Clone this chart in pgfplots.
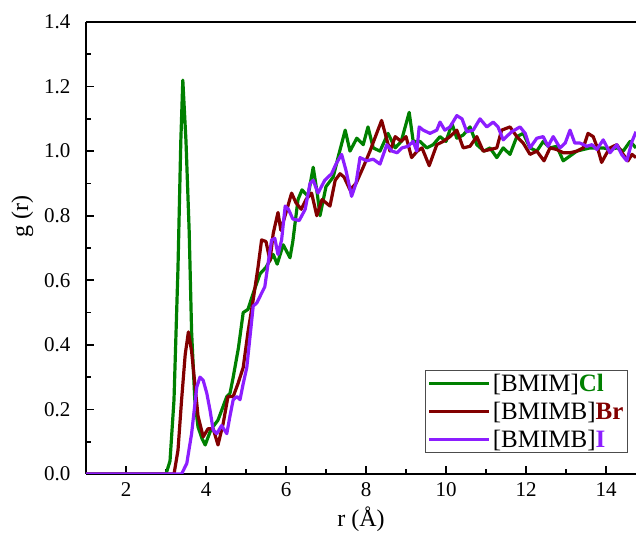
\documentclass[border=0pt]{standalone}
\usepackage{pgfplots}
\pgfplotsset{compat=1.18}
\usepackage{fontspec}
\setmainfont{Liberation Serif}
\definecolor{cgreen}{RGB}{0,128,0}
\definecolor{cred}{RGB}{130,0,0}
\definecolor{cpurple}{RGB}{140,30,255}
\begin{document}
\begin{tikzpicture}
\begin{axis}[
  scale only axis, width=550pt, height=452pt,
  xmin=1, xmax=14.75, ymin=0, ymax=1.4,
  axis x line*=bottom, axis y line*=left,
  axis line style={-, line width=1.6pt, black},
  tick align=inside, major tick length=8pt, minor tick length=5pt,
  every tick/.style={black, line width=1.6pt},
  xtick={2,4,6,8,10,12,14}, minor xtick={1,3,5,7,9,11,13,15},
  ytick={0,0.2,0.4,0.6,0.8,1.0,1.2,1.4},
  minor ytick={0.1,0.3,0.5,0.7,0.9,1.1,1.3},
  /pgf/number format/assume math mode=true,
  yticklabel style={/pgf/number format/.cd, fixed, fixed zerofill, precision=1, /tikz/.cd, xshift=-12pt},
  xticklabel style={/pgf/number format/.cd, fixed, precision=0, /tikz/.cd, yshift=-5pt},
  ticklabel style={font=\fontsize{21}{21}\selectfont},
  xlabel={r (Å)}, ylabel={g (r)},
  label style={font=\fontsize{24}{24}\selectfont},
  ylabel style={at={(ticklabel cs:0.57)}, yshift=4pt},
  xlabel style={yshift=-3pt},
  legend style={at={(0.985,0.046)}, anchor=south east, draw=black!70, line width=0.8pt,
    font=\fontsize{25}{25}\selectfont, cells={anchor=west}, inner sep=2pt, row sep=5pt},
  legend image code/.code={\draw[#1, line width=3pt] (0pt,0pt) -- (60pt,0pt);},
  every axis plot/.append style={line width=3.2pt, line join=round},
]
\coordinate (sw) at (rel axis cs:0,0);
\coordinate (ne) at (rel axis cs:1,1);
\addplot[cgreen] coordinates {(1,0) (3.0,0) (3.1,0.04) (3.2,0.23) (3.3,0.64) (3.37,1.03) (3.42,1.22) (3.5,1.03) (3.58,0.75) (3.64,0.44) (3.72,0.23) (3.8,0.146) (3.9,0.11) (3.98,0.09) (4.1,0.13) (4.18,0.147) (4.3,0.167) (4.4,0.2) (4.52,0.24) (4.6,0.25) (4.68,0.30) (4.81,0.39) (4.93,0.50) (5.05,0.51) (5.18,0.56) (5.35,0.62) (5.5,0.64) (5.68,0.68) (5.78,0.65) (5.93,0.71) (6.1,0.67) (6.17,0.72) (6.3,0.85) (6.4,0.88) (6.55,0.86) (6.68,0.95) (6.78,0.87) (6.85,0.80) (7.0,0.89) (7.18,0.92) (7.3,0.98) (7.48,1.065) (7.6,1.0) (7.77,1.04) (7.93,1.02) (8.05,1.075) (8.18,1.01) (8.35,1.0) (8.55,1.055) (8.73,1.01) (8.88,1.03) (9.08,1.12) (9.18,1.03) (9.35,1.03) (9.52,1.01) (9.68,1.02) (9.85,1.045) (10.0,1.03) (10.15,1.085) (10.27,1.04) (10.43,1.05) (10.6,1.075) (10.77,1.02) (10.95,1.0) (11.1,1.01) (11.27,0.98) (11.43,1.01) (11.6,0.99) (11.77,1.045) (11.93,1.055) (12.1,1.01) (12.27,1.0) (12.43,1.03) (12.6,1.01) (12.77,1.015) (12.93,0.97) (13.1,0.985) (13.27,1.0) (13.43,1.005) (13.6,1.01) (13.77,1.01) (13.93,1.01) (14.1,1.005) (14.27,1.01) (14.43,1.0) (14.6,1.03) (14.75,1.01)};
\addlegendentry{[BMIM]\textcolor{cgreen}{\textbf{Cl}}}
\addplot[cred] coordinates {(1,0) (3.2,0) (3.3,0.074) (3.39,0.23) (3.48,0.37) (3.56,0.44) (3.64,0.38) (3.72,0.28) (3.8,0.18) (3.93,0.115) (4.05,0.14) (4.18,0.14) (4.3,0.09) (4.43,0.157) (4.55,0.24) (4.68,0.24) (4.8,0.28) (4.93,0.33) (5.05,0.44) (5.18,0.54) (5.3,0.64) (5.39,0.725) (5.5,0.72) (5.6,0.66) (5.68,0.745) (5.8,0.81) (5.87,0.755) (6.0,0.81) (6.14,0.87) (6.25,0.84) (6.38,0.82) (6.5,0.85) (6.64,0.87) (6.77,0.80) (6.9,0.85) (7.0,0.84) (7.1,0.83) (7.23,0.91) (7.35,0.93) (7.45,0.92) (7.6,0.88) (7.75,0.9) (7.93,0.95) (8.1,1.0) (8.22,1.04) (8.39,1.095) (8.5,1.045) (8.6,1.0) (8.73,1.045) (8.88,1.03) (9.0,1.045) (9.14,0.98) (9.28,1.0) (9.4,1.01) (9.58,0.955) (9.77,1.02) (9.93,1.03) (10.1,1.045) (10.27,1.065) (10.43,1.01) (10.6,1.015) (10.77,1.045) (10.93,1.0) (11.1,1.005) (11.27,1.01) (11.39,1.065) (11.6,1.075) (11.77,1.045) (11.93,1.025) (12.1,0.99) (12.27,1.0) (12.45,0.97) (12.6,1.01) (12.77,1.005) (12.93,0.995) (13.1,0.995) (13.27,1.0) (13.43,1.01) (13.55,1.055) (13.68,1.045) (13.8,1.005) (13.89,0.965) (14.0,0.99) (14.1,1.01) (14.27,1.02) (14.43,0.99) (14.55,0.97) (14.65,0.99) (14.75,0.98)};
\addlegendentry{[BMIMB]\textcolor{cred}{\textbf{Br}}}
\addplot[cpurple] coordinates {(1,0) (3.39,0) (3.52,0.033) (3.64,0.125) (3.77,0.27) (3.85,0.30) (3.93,0.29) (4.02,0.25) (4.1,0.198) (4.18,0.136) (4.27,0.125) (4.39,0.15) (4.52,0.125) (4.6,0.18) (4.68,0.23) (4.77,0.24) (4.85,0.23) (4.93,0.28) (5.02,0.33) (5.1,0.425) (5.18,0.52) (5.27,0.53) (5.39,0.56) (5.47,0.58) (5.55,0.65) (5.64,0.725) (5.72,0.73) (5.8,0.68) (5.89,0.725) (5.98,0.83) (6.06,0.82) (6.17,0.79) (6.33,0.785) (6.48,0.82) (6.6,0.90) (6.68,0.91) (6.8,0.87) (6.97,0.91) (7.14,0.93) (7.25,0.96) (7.39,0.99) (7.5,0.94) (7.64,0.86) (7.75,0.90) (7.85,0.98) (8.02,0.97) (8.18,0.975) (8.35,0.96) (8.52,1.02) (8.65,1.0) (8.78,0.995) (8.9,1.01) (9.05,1.015) (9.18,1.03) (9.27,1.0) (9.33,1.075) (9.43,1.065) (9.6,1.055) (9.77,1.065) (9.85,1.09) (9.97,1.065) (10.1,1.075) (10.27,1.11) (10.4,1.10) (10.52,1.06) (10.68,1.065) (10.85,1.10) (11.02,1.075) (11.18,1.09) (11.3,1.075) (11.43,1.035) (11.64,1.06) (11.85,1.075) (11.98,1.055) (12.1,1.01) (12.27,1.04) (12.43,1.045) (12.55,1.015) (12.68,1.045) (12.85,1.01) (12.98,1.025) (13.1,1.065) (13.22,1.025) (13.35,1.025) (13.52,1.015) (13.65,1.02) (13.77,1.005) (13.93,1.035) (14.1,0.995) (14.27,1.02) (14.39,0.99) (14.52,0.97) (14.65,1.03) (14.75,1.06)};
\addlegendentry{[BMIMB]\textcolor{cpurple}{\textbf{I}}}
\end{axis}
\draw[line width=1.6pt, black] (sw |- ne) -- (ne);
\pgfresetboundingbox
\path ([xshift=-86pt,yshift=-60pt]sw) rectangle ([yshift=22pt]ne);
\end{tikzpicture}
\end{document}
